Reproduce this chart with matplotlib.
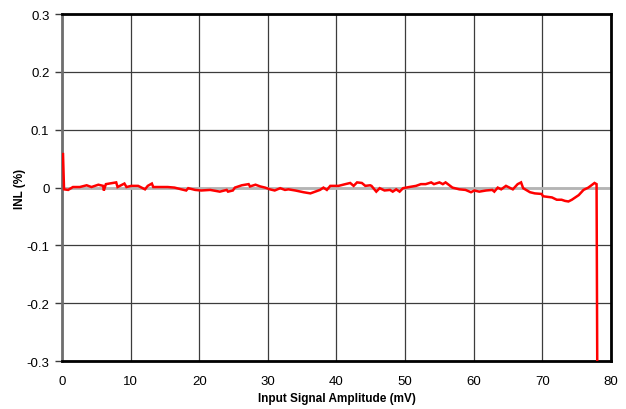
import numpy as np
import matplotlib
matplotlib.use('Agg')
import matplotlib.pyplot as plt

# --- Datos (mV, %) ---
amp_mv = [0.0, 0.15, 0.3, 0.9, 1.6, 2.6, 3.6, 4.3, 5.3, 6.0, 6.1, 6.4, 7.9, 8.1,
          9.1, 9.4, 10.1, 11.1, 12.1, 12.5, 13.1, 13.3, 15.4, 16.4, 17.4, 18.1,
          18.4, 19.4, 20.3, 21.6, 23.0, 24.0, 24.2, 24.9, 25.2, 26.2, 27.2, 27.4,
          28.2, 28.9, 29.6, 30.3, 31.0, 31.8, 32.5, 33.0, 34.0, 35.2, 36.2, 36.9,
          37.6, 38.1, 38.6, 39.1, 40.3, 41.3, 42.0, 42.5, 43.0, 43.7, 44.2, 44.9,
          45.1, 45.8, 46.3, 47.0, 47.8, 48.2, 48.7, 49.2, 49.7, 50.6, 51.6, 52.3,
          53.0, 53.8, 54.2, 55.0, 55.5, 55.9, 56.9, 57.9, 58.8, 59.6, 60.1, 60.8,
          61.8, 62.7, 63.0, 63.5, 64.0, 64.7, 65.2, 65.7, 66.4, 66.9, 67.2, 68.2,
          68.9, 69.9, 70.1, 71.4, 72.1, 72.8, 73.3, 73.8, 74.3, 75.3, 76.0, 76.7,
          77.6, 77.9, 78.0]
inl_pct = [0.058, 0.058, -0.003, -0.004, 0.001, 0.001, 0.004, 0.001, 0.005, 0.003,
           -0.005, 0.006, 0.009, 0.001, 0.007, 0.001, 0.003, 0.003, -0.003, 0.003,
           0.007, 0.001, 0.001, 0.0, -0.003, -0.005, -0.001, -0.004, -0.005, -0.004,
           -0.007, -0.004, -0.007, -0.005, 0.0, 0.004, 0.006, 0.002, 0.005, 0.002,
           0.0, -0.003, -0.005, -0.001, -0.004, -0.003, -0.005, -0.008, -0.010,
           -0.007, -0.004, 0.0, -0.004, 0.003, 0.003, 0.006, 0.008, 0.003, 0.009,
           0.008, 0.003, 0.004, 0.003, -0.007, -0.001, -0.005, -0.004, -0.007,
           -0.003, -0.007, -0.001, 0.001, 0.003, 0.006, 0.006, 0.009, 0.006, 0.009,
           0.006, 0.009, 0.0, -0.003, -0.004, -0.008, -0.005, -0.007, -0.005,
           -0.004, -0.007, 0.0, -0.003, 0.003, 0.0, -0.003, 0.006, 0.009, -0.001,
           -0.008, -0.010, -0.011, -0.015, -0.017, -0.021, -0.021, -0.023, -0.024,
           -0.021, -0.013, -0.004, 0.0, 0.008, 0.006, -0.31]

x_ticks = [0, 10, 20, 30, 40, 50, 60, 70, 80]
y_ticks = [-0.3, -0.2, -0.1, 0, 0.1, 0.2, 0.3]
y_labels = ['-0.3', '-0.2', '-0.1', '0', '0.1', '0.2', '0.3']

plt.rcParams['font.family'] = ['Liberation Sans', 'DejaVu Sans']

fig = plt.figure(figsize=(6.26, 4.10), dpi=100)
ax = fig.add_axes([0.099, 0.117, 0.877, 0.846])

ax.axhline(0, color='#b4b4b4', linewidth=2.0, zorder=1)
ax.plot(amp_mv, inl_pct, color='#ff0000', linewidth=1.8, zorder=3,
        solid_joinstyle='miter', clip_on=True)

ax.set_xlim(0, 80)
ax.set_ylim(-0.3, 0.3)
ax.set_xticks(x_ticks)
ax.set_yticks(y_ticks)
ax.set_yticklabels(y_labels)
ax.grid(True, color='#3c3c3c', linewidth=0.9, zorder=0)
ax.set_axisbelow(True)

for side in ['top', 'right', 'bottom']:
    ax.spines[side].set_color('black')
    ax.spines[side].set_linewidth(2.0)
ax.spines['left'].set_color('#6e6e6e')
ax.spines['left'].set_linewidth(2.0)

ax.tick_params(axis='y', direction='out', length=5, width=1, color='#3c3c3c',
               labelsize=9.5, pad=4)
ax.tick_params(axis='x', direction='out', length=0, labelsize=9.5, pad=10)

ax.set_xlabel('Input Signal Amplitude (mV)', fontsize=8.5, fontweight='bold', labelpad=4)
ax.set_ylabel('INL (%)', fontsize=8.5, fontweight='bold', labelpad=0)

fig.savefig('out.png', dpi=100)
